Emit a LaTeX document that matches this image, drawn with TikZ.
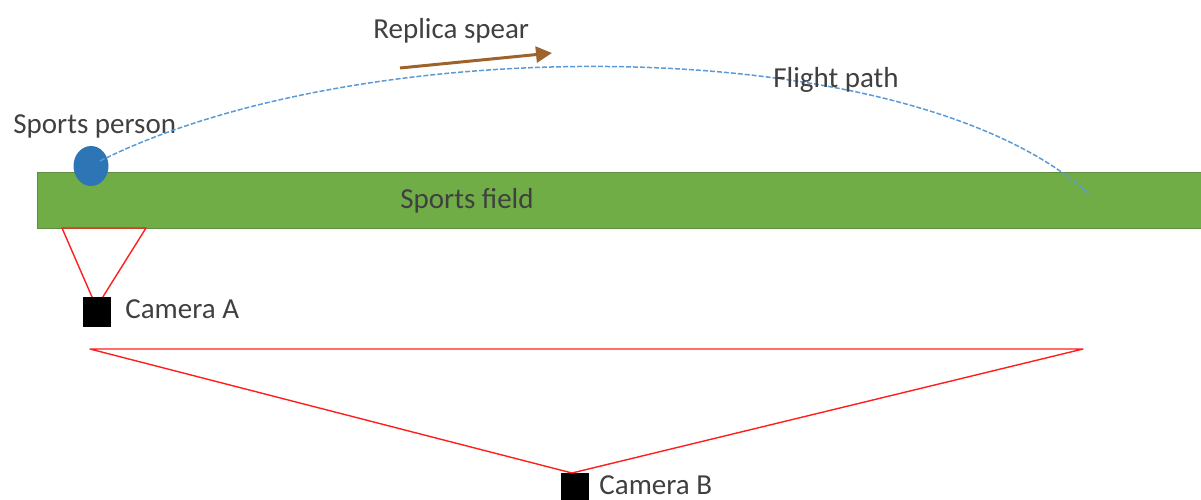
\documentclass[tikz,border=0pt]{standalone}
\usepackage{fontspec}
\setmainfont{Carlito}
\usetikzlibrary{arrows.meta,shapes.geometric}
\definecolor{fieldgreen}{RGB}{112,173,71}
\definecolor{fieldedge}{RGB}{96,140,66}
\definecolor{personblue}{RGB}{46,117,182}
\definecolor{pathblue}{RGB}{91,155,213}
\definecolor{spearbrown}{RGB}{158,99,43}
\definecolor{txt}{RGB}{64,64,64}
\definecolor{viewred}{RGB}{255,30,30}
\tikzset{
  lbl/.style={font=\fontsize{14.5}{17}\selectfont, text=txt, inner sep=0pt, anchor=west},
  cam/.style={fill=black, draw=none, inner sep=0pt, minimum width=14pt, minimum height=15pt},
  view/.style={draw=viewred, line width=0.7pt, line join=round},
}
\begin{document}
\begin{tikzpicture}[x=0.5pt,y=-0.5pt]
\useasboundingbox (0,0) rectangle (1201,499);
% field
\node[fill=fieldgreen, draw=fieldedge, line width=0.5pt, anchor=north west, inner sep=0pt,
      minimum width=582pt, minimum height=28pt] (field) at (37,172) {};
\node[lbl] (fieldlbl) at (400,201) {Sports field};
% person
\node[ellipse, fill=personblue, draw=none, minimum width=17.5pt, minimum height=20pt, inner sep=0pt] (person) at (91,166) {};
\node[lbl] (personlbl) at (13,126) {Sports person};
% flight path
\coordinate (start) at (100,161);
\coordinate (land) at (1088,193);
\draw[pathblue, line width=0.75pt, dash pattern=on 2.5pt off 1pt]
   (start) .. controls (362,30) and (907,30) .. (land);
\node[lbl] (flightlbl) at (773,80) {Flight path};
% spear
\coordinate (spearA) at (400,68);
\coordinate (spearB) at (552,53);
\draw[spearbrown, line width=1.5pt, -{Triangle[length=8pt,width=8pt]}] (spearA) -- (spearB);
\node[lbl] (spearlbl) at (373,31) {Replica spear};
% camera A
\node[cam, anchor=north west] (camA) at (83,297) {};
\node[lbl] (camAlbl) at (125,309) {Camera A};
\coordinate (a1) at (62,228);
\coordinate (a2) at (146,228);
\draw[view] ([xshift=4.5pt]camA.north west) -- (a1) -- (a2) -- ([xshift=-4.5pt]camA.north east);
% camera B
\node[cam, anchor=north west] (camB) at (561,473) {};
\node[lbl] (camBlbl) at (599,485) {Camera B};
\coordinate (b1) at (90,349);
\coordinate (b2) at (1083,349);
\draw[view] ([xshift=5.5pt]camB.north west) -- (b1) -- (b2) -- ([xshift=5.5pt]camB.north west);
\end{tikzpicture}
\end{document}
